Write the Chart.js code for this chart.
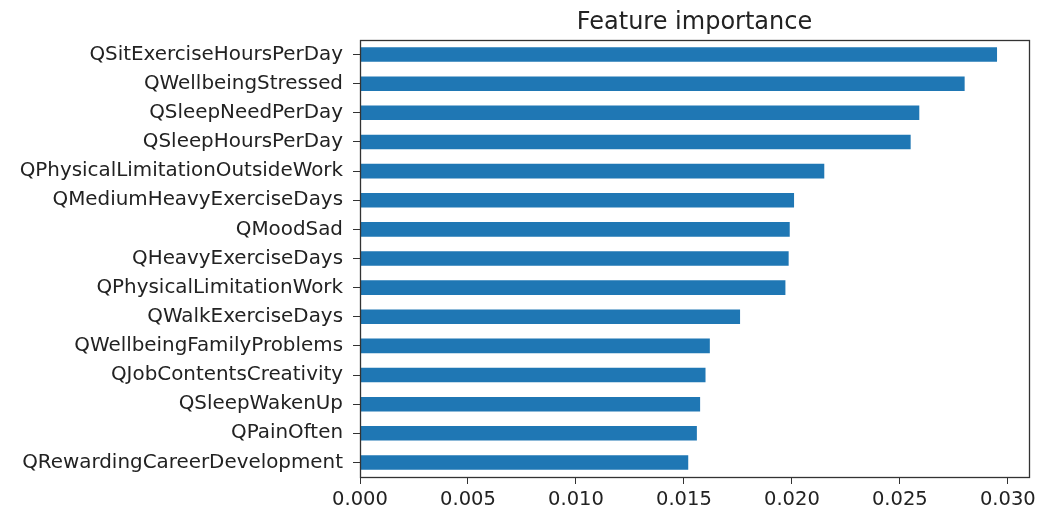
<!DOCTYPE html>
<html>
<head>
<meta charset="utf-8">
<script src="https://cdn.jsdelivr.net/npm/chart.js@4"></script>
<style>
  html, body { margin: 0; padding: 0; background: white; }
  #wrap { width: 1052px; height: 513px; position: relative; }
</style>
</head>
<body>
<div id="wrap"><canvas id="c"></canvas></div>
<script>
// Feature importance, horizontal bars (largest on top)
const features = [
  'QSitExerciseHoursPerDay', 'QWellbeingStressed', 'QSleepNeedPerDay',
  'QSleepHoursPerDay', 'QPhysicalLimitationOutsideWork', 'QMediumHeavyExerciseDays',
  'QMoodSad', 'QHeavyExerciseDays', 'QPhysicalLimitationWork', 'QWalkExerciseDays',
  'QWellbeingFamilyProblems', 'QJobContentsCreativity', 'QSleepWakenUp',
  'QPainOften', 'QRewardingCareerDevelopment'
];
const importance = [
  0.0295, 0.0280, 0.0259, 0.0255, 0.0215, 0.0201, 0.0199, 0.01985,
  0.0197, 0.0176, 0.0162, 0.0160, 0.01575, 0.0156, 0.0152
];
const xTicks = [0, 0.005, 0.010, 0.015, 0.020, 0.025, 0.030];
const titleText = 'Feature importance';

const FONT = 'DejaVu Sans';

// frame around the plot + title centred on the plot area
const framePlugin = {
  id: 'frame',
  afterDraw(chart) {
    const a = chart.chartArea, ctx = chart.ctx;
    ctx.save();
    ctx.strokeStyle = '#333';
    ctx.lineWidth = 1.3;
    ctx.strokeRect(Math.round(a.left) + 0.5, Math.round(a.top) + 0.5,
      Math.round(a.right - a.left), Math.round(a.bottom - a.top));
    ctx.fillStyle = '#222';
    ctx.font = '24px "' + FONT + '"';
    ctx.textAlign = 'center';
    ctx.textBaseline = 'alphabetic';
    ctx.fillText(titleText, (a.left + a.right) / 2, a.top - 11);
    ctx.restore();
  }
};

new Chart(document.getElementById('c'), {
  type: 'bar',
  data: {
    labels: features,
    datasets: [{
      data: importance,
      backgroundColor: '#1f77b4',
      borderWidth: 0,
      barPercentage: 0.5,
      categoryPercentage: 1.0
    }]
  },
  options: {
    indexAxis: 'y',
    responsive: true,
    maintainAspectRatio: false,
    animation: false,
    layout: { padding: { top: 40, right: 23, left: 0, bottom: 0 } },
    scales: {
      x: {
        min: 0, max: 0.03098,
        afterBuildTicks(scale) { scale.ticks = xTicks.map(v => ({ value: v })); },
        afterFit(scale) { scale.height = 36; },
        grid: { drawOnChartArea: false, drawTicks: true, tickLength: 7, color: '#333' },
        border: { display: false },
        ticks: {
          color: '#222', padding: 4,
          font: { family: FONT, size: 19.5 },
          callback: v => Number(v).toFixed(3),
          maxRotation: 0, autoSkip: false
        }
      },
      y: {
        offset: true,
        afterFit(scale) { scale.width = 360; },
        grid: { drawOnChartArea: false, drawTicks: true, tickLength: 7, color: '#333', offset: false },
        border: { display: false },
        ticks: {
          color: '#222', padding: 10,
          font: { family: FONT, size: 19.9 },
          autoSkip: false
        }
      }
    },
    plugins: {
      legend: { display: false },
      title: { display: false },
      tooltip: { enabled: false }
    }
  },
  plugins: [framePlugin]
});
</script>
</body>
</html>
